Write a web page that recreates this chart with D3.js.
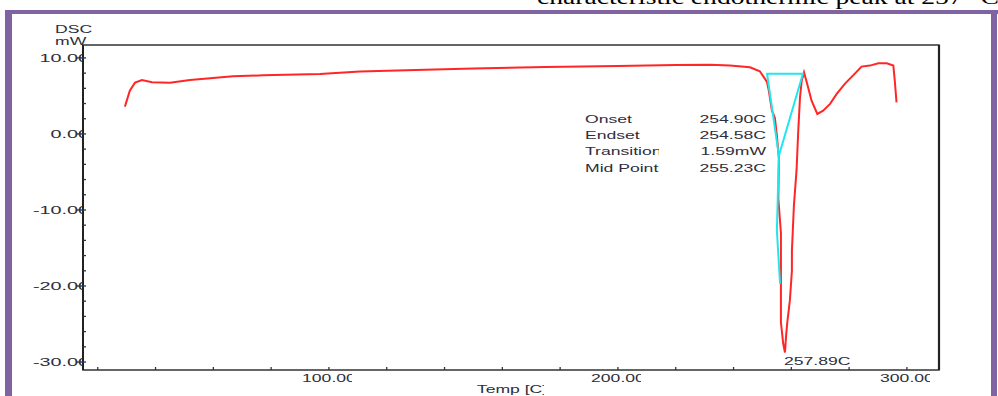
<!DOCTYPE html>
<html>
<head>
<meta charset="utf-8">
<script src="https://cdn.jsdelivr.net/npm/d3@7"></script>
<style>
  body { margin: 0; background: #fff; }
  svg { display: block; }
  text { font-family: "Liberation Sans", Arial, sans-serif; fill: #2e2e3c; }
</style>
</head>
<body>
<div id="vis"></div>
<script>
// DSC curve (Temp C, mW)
var tempC = [29.4, 31.1, 32.9, 35.3, 38.8, 45.0, 51.9, 59.9, 66.8, 77.2, 96.9, 110.7,
	130, 150, 175, 200, 220, 232, 238.75, 245.7, 249.1, 250.9, 251.6, 252.2, 253.3,
	254.3, 255.0, 255.7, 255.5, 256.4, 256.4, 256.4, 257.2, 257.8, 258.2, 258.6, 259.5,
	260.2, 260.2, 260.9, 261.8, 262.4, 263.0, 263.6, 264.4, 265.5, 267.0, 269.0, 271.0,
	273.4, 275.7, 278.5, 281.3, 284.3, 287.2, 290.1, 293.0, 295.3, 295.8, 296.4];
var dscMw = [3.59, 5.70, 6.75, 7.10, 6.79, 6.75, 7.10, 7.37, 7.58, 7.71, 7.89, 8.20,
	8.42, 8.62, 8.80, 8.95, 9.08, 9.10, 8.99, 8.76, 8.24, 7.24, 6.79, 5.70, 3.07,
	2.14, -0.22, -3.25, -8.5, -13.0, -19.7, -24.8, -27.6, -28.75, -26.5, -24.8, -21.9,
	-18.0, -15.4, -9.4, -4.8, 0.43, 4.8, 7.0, 8.1, 6.58, 4.38, 2.63, 3.07,
	3.95, 5.26, 6.58, 7.67, 8.86, 8.99, 9.29, 9.29, 8.99, 7.0, 4.16];

// cyan construction lines (baseline + tangents)
var baseT = [255.7, 251.6, 264.0, 255.7, 255.0, 256.1];
var baseV = [-2.87, 7.93, 7.93, -2.87, -12.7, -19.7];

var yTicks = [10, 0, -10, -20, -30];
var xTicks = [100, 200, 300];
var infoLabels = ["Onset", "Endset", "Transition", "Mid Point"];
var infoValues = ["254.90C", "254.58C", "1.59mW", "255.23C"];
var peakT = 257.8, peakV = -28.75, peakLabel = "257.89C";

// Layout Settings
var W = 998, H = 396;
var plotBox = {left: 83, top: 45, right: 939, bottom: 370};
var sx = 1.6; // text in the picture is stretched sideways

var svg = d3.select("#vis").append("svg")
	.attr("width", W)
	.attr("height", H);

var x = d3.scaleLinear().domain([14.9, 311.1]).range([plotBox.left, plotBox.right]);
var y = d3.scaleLinear().domain([11.7, -31.05]).range([plotBox.top, plotBox.bottom]);

function label(g, px, py, txt, anchor, scl) {
	return g.append("text")
		.attr("transform", "translate(" + px + "," + py + ") scale(" + (scl || sx) + ",1)")
		.attr("text-anchor", anchor || "start")
		.attr("font-size", 11)
		.text(txt);
}

var defs = svg.append("defs");

// page frame + cut caption line above
svg.append("text")
	.attr("x", 537).attr("y", 4)
	.attr("textLength", 462)
	.attr("lengthAdjust", "spacingAndGlyphs")
	.style("font-family", "'Liberation Serif', serif")
	.style("fill", "#000")
	.attr("font-size", 20)
	.text("characteristic endothermic peak at 257 \u00B0C");
svg.append("rect").attr("x", 5).attr("y", 10).attr("width", 993).attr("height", 4).attr("fill", "#8064a2");
svg.append("rect").attr("x", 5).attr("y", 10).attr("width", 7).attr("height", H - 10).attr("fill", "#8064a2");
svg.append("rect").attr("x", 991).attr("y", 10).attr("width", 6).attr("height", H - 10).attr("fill", "#8064a2");

// y labels first, plot area covers their right edge
var axisText = svg.append("g");
label(axisText, 55, 33, "DSC");
label(axisText, 55, 45, "mW");
yTicks.forEach(function(t) {
	label(axisText, 89, y(t) + 4, t.toFixed(2), "end", 1.8);
});

svg.append("rect")
	.attr("x", plotBox.left).attr("y", plotBox.top)
	.attr("width", plotBox.right - plotBox.left)
	.attr("height", plotBox.bottom - plotBox.top)
	.attr("fill", "#fff");

// x labels, clipped like the original
xTicks.forEach(function(t, i) {
	defs.append("clipPath").attr("id", "xc" + i)
		.append("rect").attr("x", x(t) - 40).attr("y", 370).attr("width", 63).attr("height", 20);
	label(svg.append("g").attr("clip-path", "url(#xc" + i + ")"), x(t), 382, t.toFixed(2), "middle");
});
defs.append("clipPath").attr("id", "tc")
	.append("rect").attr("x", 400).attr("y", 380).attr("width", 144).attr("height", 20);
label(svg.append("g").attr("clip-path", "url(#tc)"), 512, 393, "Temp [C]", "middle");

// frame
svg.append("rect")
	.attr("x", plotBox.left).attr("y", plotBox.top)
	.attr("width", plotBox.right - plotBox.left)
	.attr("height", plotBox.bottom - plotBox.top)
	.attr("fill", "none")
	.attr("stroke", "#333")
	.attr("stroke-width", 1.5);
svg.append("line")
	.attr("x1", plotBox.right).attr("x2", plotBox.right)
	.attr("y1", plotBox.top).attr("y2", plotBox.bottom)
	.attr("stroke", "#222").attr("stroke-width", 2.2);
svg.append("line")
	.attr("x1", plotBox.left).attr("x2", plotBox.left)
	.attr("y1", plotBox.top).attr("y2", plotBox.bottom)
	.attr("stroke", "#222").attr("stroke-width", 2);

// ticks
var tk = svg.append("g").attr("stroke", "#333").attr("stroke-width", 1.3);
tk.selectAll(".ymaj").data(yTicks).enter().append("line")
	.attr("x1", plotBox.left - 6).attr("x2", plotBox.left)
	.attr("y1", function(d) { return y(d); }).attr("y2", function(d) { return y(d); });
tk.selectAll(".ymin").data(d3.range(-30, 11, 2)).enter().append("line")
	.attr("x1", plotBox.left).attr("x2", plotBox.left + 3)
	.attr("y1", function(d) { return y(d); }).attr("y2", function(d) { return y(d); });
tk.selectAll(".xmin").data(d3.range(20, 301, 20)).enter().append("line")
	.attr("x1", function(d) { return x(d); }).attr("x2", function(d) { return x(d); })
	.attr("y1", plotBox.bottom - 3).attr("y2", plotBox.bottom);

// curve
var pts = tempC.map(function(t, i) { return [t, dscMw[i]]; });
var basePts = baseT.map(function(t, i) { return [t, baseV[i]]; });
var line = d3.line()
	.x(function(d) { return x(d[0]); })
	.y(function(d) { return y(d[1]); });

svg.append("path")
	.datum(pts)
	.attr("d", line)
	.attr("fill", "none")
	.attr("stroke", "#ff2626")
	.attr("stroke-width", 2);

svg.append("path")
	.datum(basePts)
	.attr("d", line)
	.attr("fill", "none")
	.attr("stroke", "#22e6ee")
	.attr("stroke-width", 2);

// result box
defs.append("clipPath").attr("id", "ic")
	.append("rect").attr("x", 580).attr("y", 100).attr("width", 79).attr("height", 80);
var info = svg.append("g");
var infoL = info.append("g").attr("clip-path", "url(#ic)");
infoLabels.forEach(function(s, i) {
	label(infoL, 585, 123 + i * 16.2, s);
	label(info, 766, 123 + i * 16.2, infoValues[i], "end");
});

label(svg, x(peakT) - 1, y(peakV) + 12, peakLabel);
</script>
</body>
</html>
